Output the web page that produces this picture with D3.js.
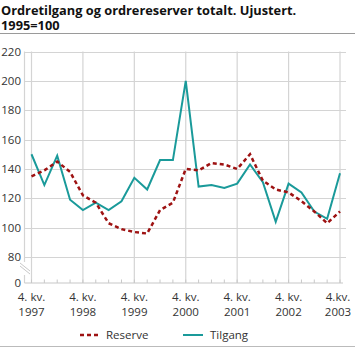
<!DOCTYPE html>
<html><head><meta charset="utf-8">
<script src="https://cdn.jsdelivr.net/npm/d3@7"></script>
<style>
body{margin:0;background:#fff;}
svg{display:block;font-family:"Open Sans",sans-serif;}
</style></head>
<body><svg id="c" width="355" height="347"></svg>
<script>
const titleLines = ["Ordretilgang og ordrereserver totalt. Ujustert.", "1995=100"];
const quarters = d3.range(25); // 4. kv. 1997 .. 4. kv. 2003
const xLabels = [["4. kv.","1997"],["4. kv.","1998"],["4. kv.","1999"],["4. kv.","2000"],["4. kv.","2001"],["4. kv.","2002"],["4.kv.","2003"]];
const yTicks = [80,100,120,140,160,180,200,220];
const reserve = [135,139,145,138,122,117,103,99,97,96,112,117,140,139,144,143,140,150,132,126,124,118,111,103,111];
const tilgang = [150,129,149,119,112,117,112,118,134,126,146,146,200,128,129,127,130,143,131,104,130,124,111,106,137];
const seriesNames = ["Reserve","Tilgang"];

const svg = d3.select("#c");
const pLeft = 24.5, pRight = 346, pTop = 51.5, y80 = 257, base = 283;
const x = d3.scaleLinear().domain([0,24]).range([31.5,340]);
const y = d3.scaleLinear().domain([80,220]).range([y80, pTop]);
const grid = "#d4d4d4";

// title
const tt = svg.append("text").attr("font-size",12.8).attr("font-weight","bold").attr("fill","#111");
tt.selectAll("tspan").data(titleLines).join("tspan").attr("x",1).attr("y",(d,i)=>15+i*14.5).text(d=>d);
svg.append("line").attr("x1",0).attr("x2",355).attr("y1",33.5).attr("y2",33.5).attr("stroke","#9a9a9a").attr("stroke-width",1);

// horizontal grid
svg.append("g").selectAll("line").data(yTicks).join("line")
  .attr("x1",pLeft).attr("x2",pRight).attr("y1",d=>Math.round(y(d))+0.5).attr("y2",d=>Math.round(y(d))+0.5)
  .attr("stroke",grid).attr("stroke-width",1.2);
// vertical grid
svg.append("g").selectAll("line").data(quarters.filter(q=>q%4===0)).join("line")
  .attr("x1",d=>x(d)).attr("x2",d=>x(d)).attr("y1",pTop).attr("y2",base)
  .attr("stroke",grid).attr("stroke-width",1.2);
// y axis line with break
svg.append("line").attr("x1",pLeft).attr("x2",pLeft).attr("y1",pTop).attr("y2",262).attr("stroke",grid).attr("stroke-width",1.2);
svg.append("line").attr("x1",pLeft).attr("x2",pLeft).attr("y1",275).attr("y2",base).attr("stroke",grid).attr("stroke-width",1.2);
[0,3].forEach(o=>svg.append("line").attr("x1",20).attr("y1",263+o).attr("x2",30).attr("y2",271+o).attr("stroke","#c8c8c8").attr("stroke-width",1));
// baseline
svg.append("line").attr("x1",pLeft).attr("x2",343).attr("y1",base).attr("y2",base).attr("stroke","#c8c8c8").attr("stroke-width",1.2);
// quarter ticks
svg.append("g").selectAll("line").data(quarters).join("line")
  .attr("x1",d=>x(d)).attr("x2",d=>x(d)).attr("y1",base-3.5).attr("y2",base)
  .attr("stroke","#c8c8c8").attr("stroke-width",1);

// y labels
svg.append("g").selectAll("text").data(yTicks).join("text")
  .attr("x",21).attr("y",d=>y(d)+4).attr("text-anchor","end").attr("font-size",11.5).attr("fill","#333").text(d=>d);
svg.append("text").attr("x",21).attr("y",base+4).attr("text-anchor","end").attr("font-size",11.5).attr("fill","#333").text("0");

// x labels
const xl = svg.append("g").selectAll("text").data(xLabels).join("text")
  .attr("text-anchor","middle").attr("font-size",11.5).attr("fill","#333")
  .attr("transform",(d,i)=>`translate(${Math.min(x(i*4),338)},0)`);
xl.append("tspan").attr("x",0).attr("y",301).text(d=>d[0]);
xl.append("tspan").attr("x",0).attr("y",316).text(d=>d[1]);

// lines
const line = d3.line().x((d,i)=>x(i)).y(d=>y(d));
svg.append("path").datum(tilgang).attr("d",line).attr("fill","none").attr("stroke","#1a9a9a").attr("stroke-width",2).attr("stroke-linejoin","miter");
svg.append("path").datum(reserve).attr("d",line).attr("fill","none").attr("stroke","#9e1212").attr("stroke-width",2.5).attr("stroke-dasharray","4,3");

// legend
svg.append("line").attr("x1",80).attr("x2",100).attr("y1",335).attr("y2",335).attr("stroke","#9e1212").attr("stroke-width",2.5).attr("stroke-dasharray","4,3");
svg.append("text").attr("x",106).attr("y",339).attr("font-size",11.5).attr("fill","#333").text(seriesNames[0]);
svg.append("line").attr("x1",183).attr("x2",203).attr("y1",335).attr("y2",335).attr("stroke","#1a9a9a").attr("stroke-width",2);
svg.append("text").attr("x",210).attr("y",339).attr("font-size",11.5).attr("fill","#333").text(seriesNames[1]);
svg.append("line").attr("x1",0).attr("x2",355).attr("y1",346.5).attr("y2",346.5).attr("stroke","#bbb").attr("stroke-width",1);
</script></body></html>
